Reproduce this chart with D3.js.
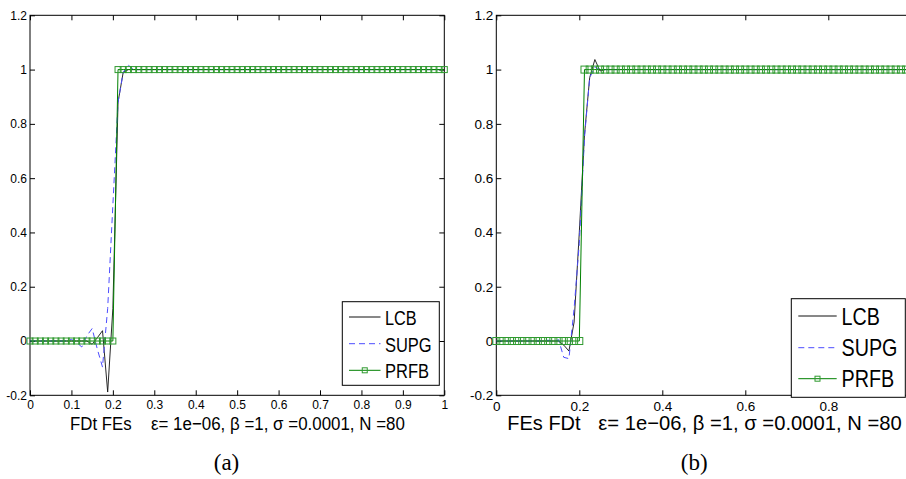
<!DOCTYPE html>
<html>
<head>
<meta charset="utf-8">
<script src="https://cdnjs.cloudflare.com/ajax/libs/d3/7.8.5/d3.min.js"></script>
<style>
  body { margin: 0; background: #fff; }
  svg { display: block; font-family: "Liberation Sans", Arial, sans-serif; }
</style>
</head>
<body>
<div id="chart"></div>
<script>
var width = 906,
  height = 479;

// mesh nodes, N = 80
var nodes = d3.range(81).map(function(i) { return i / 80; });

var yTicks = [-0.2, 0, 0.2, 0.4, 0.6, 0.8, 1, 1.2];
var xTicksA = [0, 0.1, 0.2, 0.3, 0.4, 0.5, 0.6, 0.7, 0.8, 0.9, 1];
var xTicksB = [0, 0.2, 0.4, 0.6, 0.8];
var names = ["LCB", "SUPG", "PRFB"];

// panel (a) : FDt FEs
var lcbA = [
  0, 0, 0, 0, 0, 0, 0, 0, 0, 0,
  0, 0, -0.012, 0.012, 0.038, -0.188, 0.12, 0.88, 0.99, 1,
  1, 1, 1, 1, 1, 1, 1, 1, 1, 1,
  1, 1, 1, 1, 1, 1, 1, 1, 1, 1,
  1, 1, 1, 1, 1, 1, 1, 1, 1, 1,
  1, 1, 1, 1, 1, 1, 1, 1, 1, 1,
  1, 1, 1, 1, 1, 1, 1, 1, 1, 1,
  1, 1, 1, 1, 1, 1, 1, 1, 1, 1,
  1
];
var supgA = [
  0, 0, 0, 0, 0, 0, 0, 0, 0.006, -0.005,
  -0.022, 0.02, 0.046, -0.03, -0.096, 0.12, 0.5, 0.88, 0.99, 1.016,
  1, 1, 1, 1, 1, 1, 1, 1, 1, 1,
  1, 1, 1, 1, 1, 1, 1, 1, 1, 1,
  1, 1, 1, 1, 1, 1, 1, 1, 1, 1,
  1, 1, 1, 1, 1, 1, 1, 1, 1, 1,
  1, 1, 1, 1, 1, 1, 1, 1, 1, 1,
  1, 1, 1, 1, 1, 1, 1, 1, 1, 1,
  1
];
var prfbA = [
  0, 0, 0, 0, 0, 0, 0, 0, 0, 0,
  0, 0, 0, 0, 0, 0, 0, 1, 1, 1,
  1, 1, 1, 1, 1, 1, 1, 1, 1, 1,
  1, 1, 1, 1, 1, 1, 1, 1, 1, 1,
  1, 1, 1, 1, 1, 1, 1, 1, 1, 1,
  1, 1, 1, 1, 1, 1, 1, 1, 1, 1,
  1, 1, 1, 1, 1, 1, 1, 1, 1, 1,
  1, 1, 1, 1, 1, 1, 1, 1, 1, 1,
  1
];

// panel (b) : FEs FDt
var lcbB = [
  0, 0, 0, 0, 0, 0, 0, 0, 0, 0,
  0, 0, 0, -0.015, -0.037, 0.07, 0.4, 0.76, 0.97, 1.037,
  0.995, 1, 1, 1, 1, 1, 1, 1, 1, 1,
  1, 1, 1, 1, 1, 1, 1, 1, 1, 1,
  1, 1, 1, 1, 1, 1, 1, 1, 1, 1,
  1, 1, 1, 1, 1, 1, 1, 1, 1, 1,
  1, 1, 1, 1, 1, 1, 1, 1, 1, 1,
  1, 1, 1, 1, 1, 1, 1, 1, 1, 1,
  1
];
var supgB = [
  0, 0, 0, 0, 0, 0, 0, 0, 0, 0,
  0.003, -0.003, 0.005, -0.06, -0.065, 0.12, 0.36, 0.75, 0.97, 1.01,
  1, 1, 1, 1, 1, 1, 1, 1, 1, 1,
  1, 1, 1, 1, 1, 1, 1, 1, 1, 1,
  1, 1, 1, 1, 1, 1, 1, 1, 1, 1,
  1, 1, 1, 1, 1, 1, 1, 1, 1, 1,
  1, 1, 1, 1, 1, 1, 1, 1, 1, 1,
  1, 1, 1, 1, 1, 1, 1, 1, 1, 1,
  1
];
var prfbB = [
  0, 0, 0, 0, 0, 0, 0, 0, 0, 0,
  0, 0, 0, 0, 0, 0, 0, 1, 1, 1,
  1, 1, 1, 1, 1, 1, 1, 1, 1, 1,
  1, 1, 1, 1, 1, 1, 1, 1, 1, 1,
  1, 1, 1, 1, 1, 1, 1, 1, 1, 1,
  1, 1, 1, 1, 1, 1, 1, 1, 1, 1,
  1, 1, 1, 1, 1, 1, 1, 1, 1, 1,
  1, 1, 1, 1, 1, 1, 1, 1, 1, 1,
  1
];

var svg = d3.select("#chart").append("svg")
  .attr("width", width)
  .attr("height", height);

var fmt = function(d) { return String(+d.toFixed(1)); };

// text squeezed to a given width (the figure was stretched vertically)
function fitText(g, str, x, y, size, len) {
  var t = g.append("text")
    .attr("font-size", size)
    .style("white-space", "pre")
    .text(str);
  var w = t.node().getComputedTextLength();
  t.attr("transform", "translate(" + x + "," + y + ") scale(" + (len / w) + ",1)");
  return t;
}

function drawPanel(p) {
  var x = d3.scaleLinear().domain([0, 1]).range([p.left, p.right]);
  var y = d3.scaleLinear().domain([-0.2, 1.2]).range([p.bottom, p.top]);
  var g = svg.append("g");

  // box + mirrored ticks, MATLAB style
  g.append("rect")
    .attr("x", p.left).attr("y", p.top)
    .attr("width", p.right - p.left).attr("height", p.bottom - p.top)
    .attr("fill", "none").attr("stroke", "#000");

  var ax = g.append("g").attr("transform", "translate(0," + p.bottom + ")")
    .call(d3.axisBottom(x).tickValues(p.xTicks).tickFormat(fmt)
      .tickSizeInner(-5).tickSizeOuter(0).tickPadding(p.xPad));
  g.append("g").attr("transform", "translate(0," + p.top + ")")
    .call(d3.axisTop(x).tickValues(p.xTicks).tickFormat("")
      .tickSizeInner(-5).tickSizeOuter(0));
  var ay = g.append("g").attr("transform", "translate(" + p.left + ",0)")
    .call(d3.axisLeft(y).tickValues(yTicks).tickFormat(fmt)
      .tickSizeInner(-5).tickSizeOuter(0).tickPadding(3));
  g.append("g").attr("transform", "translate(" + p.right + ",0)")
    .call(d3.axisRight(y).tickValues(yTicks).tickFormat("")
      .tickSizeInner(-5).tickSizeOuter(0));
  g.selectAll(".domain").remove();
  g.selectAll(".tick line").attr("stroke", "#000");
  ax.selectAll("text").attr("font-size", p.tickFont)
    .attr("font-family", "Liberation Sans, Arial, sans-serif");
  ay.selectAll("text").attr("font-size", p.tickFont)
    .attr("font-family", "Liberation Sans, Arial, sans-serif");

  var line = d3.line()
    .x(function(d) { return x(d[0]); })
    .y(function(d) { return y(d[1]); });
  function pts(vals) { return nodes.map(function(n, i) { return [n, vals[i]]; }); }

  g.append("path").datum(pts(p.lcb))
    .attr("d", line).attr("fill", "none")
    .attr("stroke", "#111").attr("stroke-width", 0.9);
  g.append("path").datum(pts(p.supg))
    .attr("d", line).attr("fill", "none")
    .attr("stroke", "#4d4dff").attr("stroke-width", 1)
    .attr("stroke-dasharray", "6,4");
  g.append("path").datum(pts(p.prfb))
    .attr("d", line).attr("fill", "none")
    .attr("stroke", "#008000").attr("stroke-width", 1);
  var m = p.marker;
  g.selectAll(".mk").data(pts(p.prfb)).enter().append("rect")
    .attr("class", "mk")
    .attr("x", function(d) { return x(d[0]) - m / 2; })
    .attr("y", function(d) { return y(d[1]) - m / 2; })
    .attr("width", m).attr("height", m)
    .attr("fill", "none").attr("stroke", "#2f9a2f").attr("stroke-width", 1);

  // legend
  var L = p.legend;
  g.append("rect")
    .attr("x", L.x).attr("y", L.y).attr("width", L.w).attr("height", L.h)
    .attr("fill", "#fff").attr("stroke", "#000");
  var styles = [
    { stroke: "#111", dash: null },
    { stroke: "#4d4dff", dash: "6,4" },
    { stroke: "#008000", dash: null }
  ];
  names.forEach(function(name, i) {
    var ly = L.rows[i];
    g.append("line")
      .attr("x1", L.x1).attr("x2", L.x2).attr("y1", ly).attr("y2", ly)
      .attr("stroke", styles[i].stroke)
      .attr("stroke-dasharray", styles[i].dash);
    if (name === "PRFB") {
      g.append("rect")
        .attr("x", (L.x1 + L.x2) / 2 - 2.5).attr("y", ly - 2.5)
        .attr("width", 5).attr("height", 5)
        .attr("fill", "none").attr("stroke", "#2f9a2f");
    }
    fitText(g, name, L.tx, ly + L.base, L.font, L.widths[i]);
  });

  // x label in two parts
  fitText(g, p.label1, p.l1x, 430, p.labelFont, p.l1w);
  fitText(g, p.label2, p.l2x, 430, p.labelFont, p.l2w);

  g.append("text")
    .attr("x", p.capX).attr("y", 470)
    .attr("text-anchor", "middle")
    .attr("font-family", "Liberation Serif, Times New Roman, serif")
    .attr("font-size", 23)
    .text(p.caption);
}

drawPanel({
  left: 30, right: 444.3, top: 15.3, bottom: 395.3,
  xTicks: xTicksA, xPad: 5, tickFont: 12, marker: 6,
  lcb: lcbA, supg: supgA, prfb: prfbA,
  legend: { x: 342.3, y: 301.7, w: 97, h: 83.6, x1: 349, x2: 380.5, tx: 385,
    rows: [317, 343.7, 370.3], base: 8, font: 21, widths: [31.7, 46.7, 44] },
  label1: "FDt FEs", l1x: 70, l1w: 61.7,
  label2: "\u03b5= 1e\u221206, \u03b2 =1, \u03c3 =0.0001, N =80", l2x: 151, l2w: 254,
  labelFont: 18.5,
  caption: "(a)", capX: 226.5
});

drawPanel({
  left: 496.3, right: 911.3, top: 15.3, bottom: 395.3,
  xTicks: xTicksB, xPad: 6, tickFont: 13.5, marker: 7,
  lcb: lcbB, supg: supgB, prfb: prfbB,
  legend: { x: 791.3, y: 298.7, w: 114, h: 98.6, x1: 798.3, x2: 836.7, tx: 841.5,
    rows: [316, 347.7, 378.7], base: 8.5, font: 23, widths: [38.3, 56, 52.7] },
  label1: "FEs FDt", l1x: 507.3, l1w: 73.3,
  label2: "\u03b5= 1e\u221206, \u03b2 =1, \u03c3 =0.0001, N =80", l2x: 598.3, l2w: 303.4,
  labelFont: 21,
  caption: "(b)", capX: 694.2
});
</script>
</body>
</html>
